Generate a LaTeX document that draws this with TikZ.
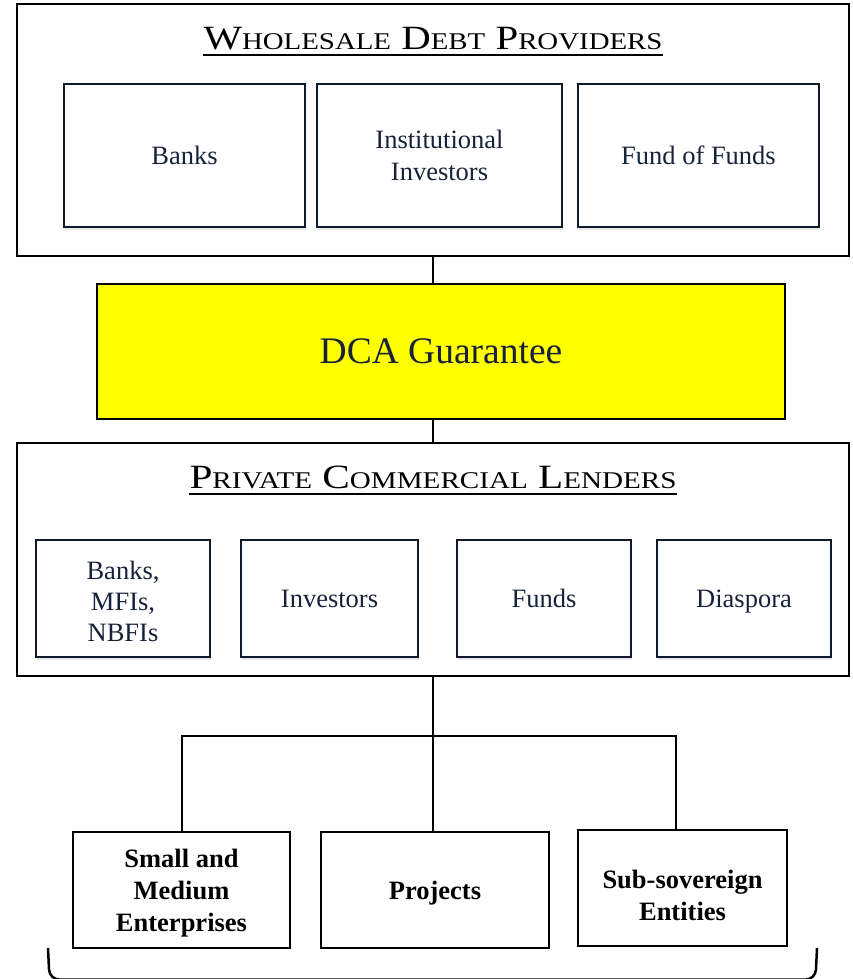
\documentclass[tikz,border=0pt]{standalone}
\usepackage{fontspec}
\usepackage{graphicx}
\setmainfont{Liberation Serif}
\usetikzlibrary{shadows}
\definecolor{navy}{HTML}{0F1B2D}
\definecolor{navytext}{HTML}{17223A}
\definecolor{dcayellow}{HTML}{FFFF00}
\newcommand\smcap[1]{{\fontsize{24}{28}\selectfont #1}}
\newcommand\oneline[1]{\raisebox{0pt}[0.7em][0pt]{#1}}
\newcommand\lift[1]{\rule{0pt}{#1}}
\begin{document}
\begin{tikzpicture}[x=1pt,y=-1pt,
  outerbox/.style={draw=black, line width=2.5pt, fill=white, inner sep=0pt},
  innerbox/.style={draw=navy, line width=2pt, fill=white, text=navytext,
    font=\fontsize{26.5}{32}\selectfont, align=center, inner sep=0pt,
    drop shadow={shadow xshift=1pt, shadow yshift=-3pt, opacity=0.18}},
  endbox/.style={draw=black, line width=2.5pt, fill=white, text=black,
    font=\bfseries\fontsize{26.5}{32}\selectfont, align=center, inner sep=0pt},
  titletext/.style={anchor=base, inner sep=0pt, font=\fontsize{34}{40}\selectfont},
  conn/.style={draw=black, line width=2pt},
  uline/.style={draw=black, line width=1.5pt}
]
\useasboundingbox (0,0) rectangle (852,979);

% top group
\node[outerbox, minimum width=832pt, minimum height=252pt] (wdp) at (433,130) {};
\node[titletext] (t1) at (433,50) {\resizebox{459pt}{\height}{W\smcap{HOLESALE} D\smcap{EBT} P\smcap{ROVIDERS}}};
\draw[uline] ([yshift=-5pt]t1.base west) -- ([yshift=-5pt]t1.base east);
\node[innerbox, minimum width=241pt, minimum height=143pt] (banks) at (184.5,155.5) {\oneline{Banks}};
\node[innerbox, minimum width=245pt, minimum height=143pt] (inst) at (439.5,155.5) {Institutional\\Investors};
\node[innerbox, minimum width=241pt, minimum height=143pt] (fof) at (698.5,155.5) {\oneline{Fund of Funds}};

% guarantee
\node[draw=black, line width=2pt, fill=dcayellow, inner sep=0pt, minimum width=688pt,
  minimum height=135pt, text=navytext, font=\fontsize{37.5}{45}\selectfont] (dca) at (441,351.5) {DCA Guarantee};

% middle group
\node[outerbox, minimum width=832pt, minimum height=233pt] (pcl) at (433,559.5) {};
\node[titletext] (t2) at (433,488) {\resizebox{487pt}{\height}{P\smcap{RIVATE} C\smcap{OMMERCIAL} L\smcap{ENDERS}}};
\draw[uline] ([yshift=-6pt]t2.base west) -- ([yshift=-6pt]t2.base east);
\node[innerbox, minimum width=174pt, minimum height=117pt, font=\fontsize{26.5}{31}\selectfont] (bmn) at (123,598.5) {\lift{24.5pt}Banks,\\MFIs,\\NBFIs};
\node[innerbox, minimum width=177pt, minimum height=117pt] (inv) at (329.5,598.5) {\oneline{Investors}};
\node[innerbox, minimum width=174pt, minimum height=117pt] (funds) at (544,598.5) {\oneline{Funds}};
\node[innerbox, minimum width=174pt, minimum height=117pt] (dia) at (744,598.5) {\oneline{Diaspora}};

% bottom group
\node[endbox, minimum width=217pt, minimum height=116pt] (sme) at (181.5,890) {\lift{24.5pt}Small and\\Medium\\Enterprises};
\node[endbox, minimum width=228pt, minimum height=116pt] (proj) at (435,890) {\oneline{Projects}};
\node[endbox, minimum width=209pt, minimum height=116pt] (sub) at (682.5,888) {\lift{34pt}Sub-sovereign\\Entities};

% connectors
\draw[conn] (wdp.south) -- (wdp.south |- dca.north);
\draw[conn] (wdp.south |- dca.south) -- (pcl.north);
\draw[conn] (pcl.south) -- (pcl.south |- proj.north);
\coordinate (bar) at (433,736);
\coordinate (subtop) at ([xshift=-7pt]sub.north);
\draw[conn] (sme.north) -- (sme.north |- bar) -- (subtop |- bar) -- (subtop);

% bracket at the bottom
\coordinate (brL) at (48,948);
\coordinate (brR) at (817,948);
\draw[line width=2.5pt, rounded corners=10pt] (brL) -- (49.5,979.6) -- (815.5,979.6) -- (brR);
\end{tikzpicture}
\end{document}
